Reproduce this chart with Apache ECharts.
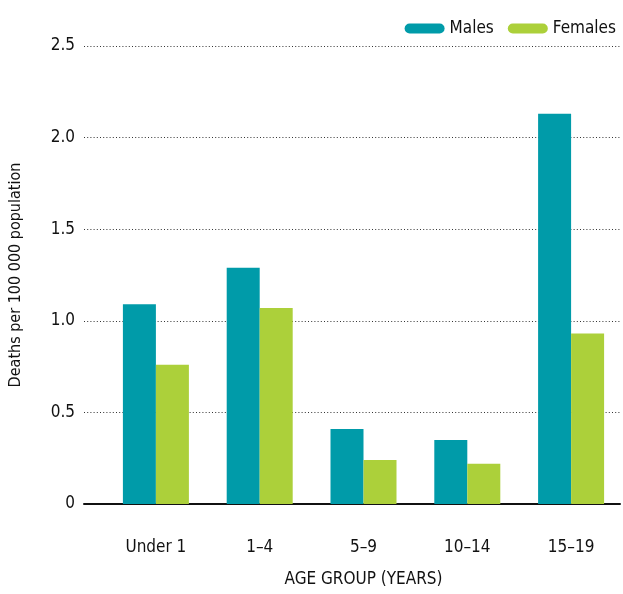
<!DOCTYPE html>
<html>
<head>
<meta charset="utf-8">
<script src="https://cdn.jsdelivr.net/npm/echarts@6/dist/echarts.min.js"></script>
<style>
  html, body { margin: 0; padding: 0; background: #fff; }
  #chart { width: 623px; height: 594px; }
</style>
</head>
<body>
<div id="chart"></div>
<script>
const FONT = "'Liberation Sans Narrow', 'DejaVu Sans Condensed', 'Roboto', sans-serif";

const categories = ['Under 1', '1–4', '5–9', '10–14', '15–19'];
const males = [1.09, 1.29, 0.41, 0.35, 2.13];
const females = [0.76, 1.07, 0.24, 0.22, 0.93];
const yTicks = [0, 0.5, 1.0, 1.5, 2.0, 2.5];

const TEAL = '#009ba9';
const GREEN = '#acd03a';
const capsule = 'path://M5,0 H35 A5,5 0 0 1 35,10 H5 A5,5 0 0 1 5,0 Z';

const chart = echarts.init(document.getElementById('chart'));

chart.setOption({
  animation: false,
  textStyle: { fontFamily: FONT },
  legend: {
    right: 2,
    top: 15,
    itemWidth: 40,
    itemHeight: 10,
    itemGap: 14,
    textStyle: { fontFamily: FONT, fontSize: 17, color: '#111' },
    data: [
      { name: 'Males', icon: capsule },
      { name: 'Females', icon: capsule }
    ]
  },
  grid: [
    // frame grid: gridlines + zero line
    { left: 84, right: 3, top: 46, bottom: 90 },
    // bars grid
    { left: 104, right: 0, top: 46, bottom: 90 }
  ],
  xAxis: [
    {
      type: 'category',
      gridIndex: 0,
      data: categories,
      axisLine: { lineStyle: { color: '#111', width: 2 } },
      axisTick: { show: false },
      axisLabel: { show: false }
    },
    {
      type: 'category',
      gridIndex: 1,
      data: categories,
      axisLine: { show: false },
      axisTick: { show: false },
      axisLabel: { margin: 35, fontSize: 17, color: '#111', fontFamily: FONT },
      name: 'AGE GROUP (YEARS)',
      nameLocation: 'middle',
      nameGap: 67,
      nameTextStyle: { fontSize: 17, color: '#111', fontFamily: FONT }
    }
  ],
  yAxis: [
    {
      type: 'value',
      gridIndex: 0,
      min: 0,
      max: 2.5,
      interval: 0.5,
      axisLine: { show: false },
      axisTick: { show: false },
      axisLabel: {
        margin: 9,
        fontSize: 17,
        color: '#111',
        fontFamily: FONT,
        formatter: v => (v === 0 ? '0' : yTicks.find(t => Math.abs(t - v) < 1e-9).toFixed(1))
      },
      splitLine: { lineStyle: { color: '#333', width: 1.2, type: [1, 2.2] } },
      name: 'Deaths per 100 000 population',
      nameLocation: 'middle',
      nameGap: 60,
      nameTextStyle: { fontSize: 16, color: '#111', fontFamily: FONT }
    },
    {
      type: 'value',
      gridIndex: 1,
      min: 0,
      max: 2.5,
      interval: 0.5,
      show: false
    }
  ],
  series: [
    {
      name: 'Males',
      type: 'bar',
      xAxisIndex: 1,
      yAxisIndex: 1,
      data: males,
      barWidth: 33,
      barGap: '0%',
      itemStyle: { color: TEAL }
    },
    {
      name: 'Females',
      type: 'bar',
      xAxisIndex: 1,
      yAxisIndex: 1,
      data: females,
      barWidth: 33,
      barGap: '0%',
      itemStyle: { color: GREEN }
    }
  ]
});
</script>
</body>
</html>
